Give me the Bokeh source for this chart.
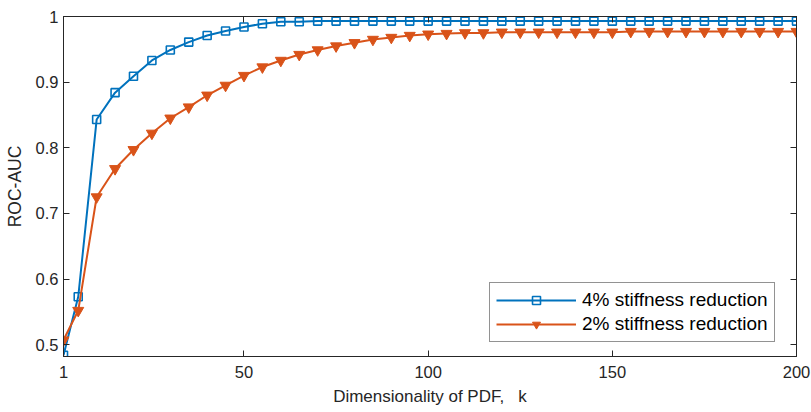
from bokeh.plotting import figure
from bokeh.models import (LinearAxis, FixedTicker, Legend, LegendItem, Range1d)
from bokeh.embed import file_html
from bokeh.resources import INLINE

k = [1, 5, 10, 15, 20, 25, 30, 35, 40, 45, 50, 55, 60, 65, 70, 75, 80, 85, 90, 95,
     100, 105, 110, 115, 120, 125, 130, 135, 140, 145, 150, 155, 160, 165, 170, 175,
     180, 185, 190, 195, 200]

auc_4pct = [0.484, 0.573, 0.843, 0.884, 0.909, 0.933, 0.949, 0.961, 0.971, 0.978,
            0.984, 0.989, 0.992, 0.992, 0.993, 0.993, 0.993, 0.993, 0.993, 0.993,
            0.993, 0.993, 0.993, 0.993, 0.993, 0.993, 0.993, 0.993, 0.993, 0.993,
            0.993, 0.993, 0.993, 0.993, 0.993, 0.993, 0.993, 0.993, 0.993, 0.993,
            0.993]

auc_2pct = [0.507, 0.552, 0.725, 0.768, 0.797, 0.822, 0.845, 0.862, 0.880, 0.895,
            0.910, 0.923, 0.933, 0.942, 0.949, 0.955, 0.960, 0.965, 0.968, 0.971,
            0.973, 0.974, 0.975, 0.975, 0.976, 0.976, 0.976, 0.976, 0.976, 0.976,
            0.976, 0.977, 0.977, 0.977, 0.977, 0.977, 0.977, 0.977, 0.977, 0.977,
            0.977]

x_ticks = [1, 50, 100, 150, 200]
y_ticks = [0.5, 0.6, 0.7, 0.8, 0.9, 1.0]
y_tick_labels = {0.5: "0.5", 0.6: "0.6", 0.7: "0.7", 0.8: "0.8", 0.9: "0.9", 1.0: "1"}

x_title = "Dimensionality of PDF,\u00a0\u00a0\u00a0k"
y_title = "ROC-AUC"
label_4 = "4% stiffness reduction"
label_2 = "2% stiffness reduction"

BLUE = "#0072BD"
ORANGE = "#D95319"
AX = "#262626"
FONT = "Liberation Sans"

p = figure(width=811, height=412, output_backend="svg", toolbar_location=None,
           x_range=Range1d(1, 200), y_range=Range1d(0.482, 1.0),
           min_border_left=63, min_border_right=15, min_border_top=16,
           min_border_bottom=56, x_axis_location=None, y_axis_location=None)
p.grid.visible = False
p.outline_line_color = AX
p.background_fill_color = "white"
p.border_fill_color = "white"


def style_axis(ax, show_labels):
    ax.axis_line_color = AX
    ax.axis_line_width = 1
    ax.major_tick_line_color = AX
    ax.major_tick_in = 6
    ax.major_tick_out = 0
    ax.minor_tick_line_color = None
    ax.major_label_text_font = FONT
    ax.major_label_text_color = AX
    ax.major_label_text_font_size = "16.5px" if show_labels else "0px"
    ax.axis_label_text_font = FONT
    ax.axis_label_text_font_style = "normal"
    ax.axis_label_text_color = AX
    ax.axis_label_text_font_size = "17px"


xb = LinearAxis(ticker=FixedTicker(ticks=x_ticks))
style_axis(xb, True)
xb.major_label_standoff = 9
xb.axis_label = x_title
xb.axis_label_standoff = 6
p.add_layout(xb, "below")

yl = LinearAxis(ticker=FixedTicker(ticks=y_ticks))
style_axis(yl, True)
yl.major_label_overrides = y_tick_labels
yl.major_label_standoff = 5
yl.axis_label = y_title
yl.axis_label_text_font_size = "17.5px"
yl.axis_label_standoff = 8
p.add_layout(yl, "left")

xt = LinearAxis(ticker=FixedTicker(ticks=x_ticks))
style_axis(xt, False)
p.add_layout(xt, "above")

yr = LinearAxis(ticker=FixedTicker(ticks=y_ticks))
style_axis(yr, False)
p.add_layout(yr, "right")

l4 = p.line(k, auc_4pct, line_color=BLUE, line_width=2)
s4 = p.scatter(k, auc_4pct, marker="square", size=8, fill_color=None,
               line_color=BLUE, line_width=1.6)
l2 = p.line(k, auc_2pct, line_color=ORANGE, line_width=2)
s2 = p.scatter(k, auc_2pct, marker="inverted_triangle", size=11,
               fill_color=ORANGE, line_color=ORANGE, line_width=1)

legend = Legend(items=[LegendItem(label=label_4, renderers=[l4, s4]),
                       LegendItem(label=label_2, renderers=[l2, s2])],
                location=(426, 14))
legend.label_text_font = FONT
legend.label_text_font_size = "19px"
legend.label_text_color = "black"
legend.border_line_color = AX
legend.border_line_width = 1
legend.background_fill_color = "white"
legend.background_fill_alpha = 1
legend.glyph_width = 80
legend.glyph_height = 20
legend.label_height = 20
legend.label_standoff = 6
legend.spacing = 2
legend.padding = 6
legend.margin = 0
p.add_layout(legend)

open("out.html", "w").write(file_html(p, INLINE))
